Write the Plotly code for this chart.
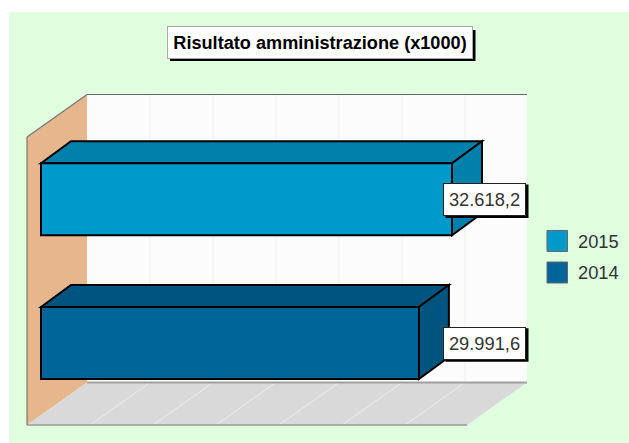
import plotly.graph_objects as go

title_text = "Risultato amministrazione (x1000)"
years = ["2014", "2015"]
values = [29991.6, 32618.2]
value_labels = ["29.991,6", "32.618,2"]
tick_values = [0, 5000, 10000, 15000, 20000, 25000, 30000, 35000]
front_colors = ["#006699", "#0099CC"]
shade_colors = ["#005580", "#0080AA"]

W, H = 629, 443
PX_PER_UNIT = 0.0126      # horizontal pixels per value unit
PX_PER_CAT = 143.8        # vertical pixels per category step
X0_PX = 41                # pixel of value 0 on the bar's front face
Y0_PX = 343               # pixel of the first category centre


def ux(px):
    return (px - X0_PX) / PX_PER_UNIT


def uy(py):
    return (Y0_PX - py) / PX_PER_CAT


def poly(points, fill, line=None, width=0, layer="below"):
    path = "M " + " L ".join(f"{ux(x):.3f},{uy(y):.5f}" for x, y in points) + " Z"
    return dict(type="path", path=path, xref="x", yref="y", fillcolor=fill,
                line=dict(color=line or "rgba(0,0,0,0)", width=width), layer=layer)


def seg(x1, y1, x2, y2, color, width=1):
    return dict(type="line", xref="x", yref="y", x0=ux(x1), y0=uy(y1), x1=ux(x2), y1=uy(y2),
                line=dict(color=color, width=width), layer="below")


def rect(x1, y1, x2, y2, fill, layer="below"):
    return dict(type="rect", xref="x", yref="y", x0=ux(x1), y0=uy(y1), x1=ux(x2), y1=uy(y2),
                fillcolor=fill, line=dict(width=0), layer=layer)


shapes = [rect(9, 12, 640, 450, "#DFFFDF")]
# Back wall, left wall, floor
shapes.append(poly([(87, 94.5), (527, 94.5), (527, 382.5), (87, 382.5)], "#FCFCFC"))
shapes.append(poly([(27, 137), (87, 94.5), (87, 382.5), (27, 425)], "#E6B68C"))
shapes.append(poly([(27, 425), (467, 425), (527, 382.5), (87, 382.5)], "#D9D9D9"))
# Grid lines follow the value ticks
for v in tick_values[1:-1]:
    back = X0_PX + 46 + v * PX_PER_UNIT
    front = X0_PX - 14 + v * PX_PER_UNIT
    shapes.append(seg(back, 94.5, back, 382.5, "#EFF3EF"))
    shapes.append(seg(back, 382.5, front, 425, "#EEEEEE"))
# Frame
shapes.append(seg(87, 94.5, 527, 94.5, "#666666", 1.2))
shapes.append(seg(87, 382.5, 527, 382.5, "#A0A0A0", 2))
shapes.append(seg(27, 425, 467, 425, "#999999", 1.5))
shapes.append(seg(27, 425, 27, 137, "#777777", 1.2))
shapes.append(seg(27, 137, 87, 94.5, "#777777", 1.2))

# 3D top and side faces of each bar, from the values
DX, DY = 30, 22
for i, val in enumerate(values):
    xe = X0_PX + val * PX_PER_UNIT
    yc = Y0_PX - i * PX_PER_CAT
    yt, yb = yc - 36, yc + 36
    shapes.append(poly([(X0_PX, yt), (X0_PX + DX, yt - DY), (xe + DX, yt - DY), (xe, yt)],
                       shade_colors[i], "black", 2))
    shapes.append(poly([(xe, yt), (xe + DX, yt - DY), (xe + DX, yb - DY), (xe, yb)],
                       shade_colors[i], "black", 2))

annotations = []
# Value labels
LABEL_CX = 484.5
for i, lab in enumerate(value_labels):
    yc = Y0_PX - i * PX_PER_CAT - 0.7
    shapes.append(rect(LABEL_CX - 39, yc - 14, LABEL_CX + 44, yc + 19.5, "black", "above"))
    annotations.append(dict(x=ux(LABEL_CX), y=i - 0.7 / PX_PER_CAT, xref="x", yref="y", text=lab,
                            showarrow=False, width=81, height=31, bgcolor="white",
                            xanchor="center", yanchor="middle",
                            bordercolor="#222222", borderwidth=1, borderpad=0,
                            font=dict(family="Liberation Sans", size=18.3, color="#333333")))

# Title
shapes.append(rect(170, 30, 475.5, 61, "black", "above"))
annotations.append(dict(x=320 / W, y=1 - 42 / H, xref="paper", yref="paper", text=f"<b>{title_text}</b>",
                        showarrow=False, width=304, height=31, bgcolor="white",
                        xanchor="center", yanchor="middle",
                        bordercolor="#AAAAAA", borderwidth=1, borderpad=0,
                        font=dict(family="Liberation Sans", size=18.15, color="black")))

# Legend
legend_y = [272.5, 241]
for i, yr in enumerate(years):
    shapes.append(dict(type="rect", xref="x", yref="y", x0=ux(547), x1=ux(567.5),
                       y0=uy(legend_y[i] - 10.5), y1=uy(legend_y[i] + 10.5), fillcolor=front_colors[i],
                       line=dict(color="#666666", width=1), layer="above"))
    annotations.append(dict(x=576 / W, y=1 - legend_y[i] / H, xref="paper", yref="paper", text=yr,
                            showarrow=False, xanchor="left", yanchor="middle",
                            font=dict(family="Liberation Sans", size=18.3, color="#333333")))

fig = go.Figure()
for i, yr in enumerate(years):
    fig.add_trace(go.Bar(y=[yr], x=[values[i]], orientation="h", name=yr, width=0.5, base=0,
                         marker=dict(color=front_colors[i], line=dict(color="black", width=2)),
                         showlegend=False, hoverinfo="skip"))

fig.update_layout(
    width=W, height=H, margin=dict(l=0, r=0, t=0, b=0), autosize=False,
    paper_bgcolor="white", plot_bgcolor="white", barmode="overlay", showlegend=False,
    shapes=shapes, annotations=annotations,
    xaxis=dict(range=[ux(0), ux(W)], visible=False, fixedrange=True, tickvals=tick_values),
    yaxis=dict(range=[uy(H), uy(0)], visible=False, fixedrange=True, type="category",
               categoryorder="array", categoryarray=years),
)
fig.write_html("out.html", config=dict(displayModeBar=False),
               post_script="document.body.style.margin='0';document.body.style.overflow='hidden';")
